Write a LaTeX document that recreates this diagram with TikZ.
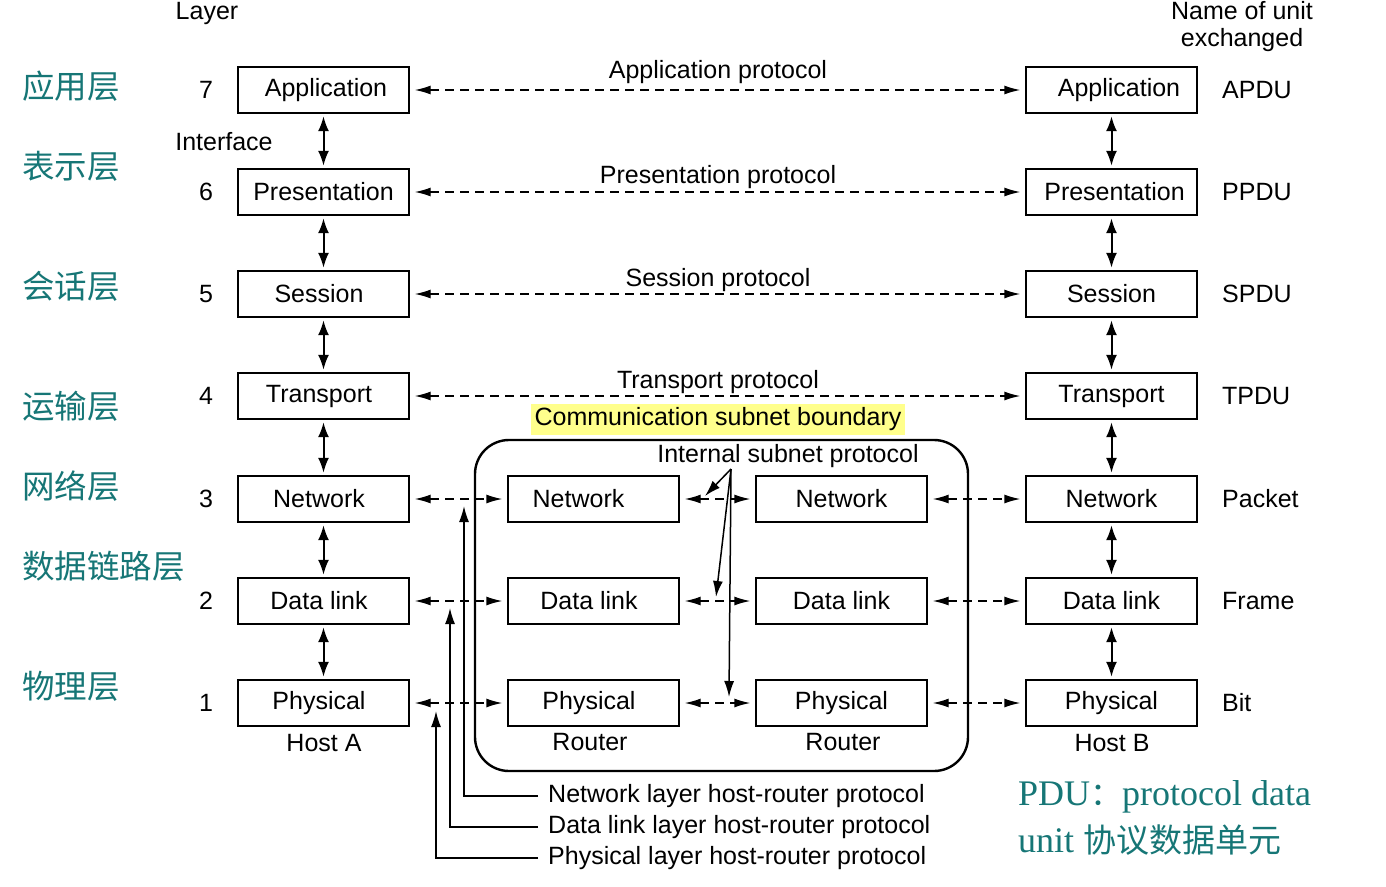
\documentclass[tikz,border=0pt]{standalone}
\usepackage{fontspec}
\setmainfont{Liberation Sans}
\newfontfamily\cjk{Noto Sans CJK SC}
\newfontfamily\pduserif{Liberation Serif}
\usetikzlibrary{arrows.meta}
\definecolor{tealcn}{RGB}{22,118,118}
\definecolor{hl}{RGB}{255,255,140}
\begin{document}
\begin{tikzpicture}[x=1pt,y=-1pt,
  txt/.style={font=\fontsize{25}{29}\selectfont, inner sep=0pt},
  layerbox/.style={draw, line width=1.4pt, minimum width=171pt, minimum height=46pt, inner sep=0pt, font=\fontsize{25}{29}\selectfont},
  cn/.style={font=\cjk\fontsize{32.5}{38}\selectfont, text=tealcn, anchor=west, inner sep=0pt},
  proto/.style={line width=1.4pt, dash pattern=on 9pt off 6pt, {Latex[length=16pt,width=9pt]}-{Latex[length=16pt,width=9pt]}, shorten >=5pt, shorten <=5pt},
  iface/.style={line width=2pt, {Latex[length=15pt,width=11pt]}-{Latex[length=15pt,width=11pt]}, shorten >=2.5pt, shorten <=2.5pt},
  solidarrow/.style={line width=1.5pt, -{Latex[length=16pt,width=10pt]}}
]
\useasboundingbox (0,0) rectangle (1386,886);

% headers
\node[txt] (hlayer) at (207,13) {Layer};
\node[txt, align=center] (hname) at (1242,27) {Name of unit\\[-2pt]exchanged};
\node[txt] (hiface) at (224,142) {Interface};

% Chinese layer names
\node[cn] (c7) at (22,86) {应用层};
\node[cn] (c6) at (22,166) {表示层};
\node[cn] (c5) at (22,286) {会话层};
\node[cn] (c4) at (22,406) {运输层};
\node[cn] (c3) at (22,486) {网络层};
\node[cn] (c2) at (22,566) {数据链路层};
\node[cn] (c1) at (22,686) {物理层};

% layer numbers
\foreach \n/\y in {7/90,6/192,5/294,4/396,3/499,2/601,1/703}
  \node[txt] (num\n) at (206,\y) {\n};

% left host
\node[layerbox] (la7) at (323.5,90) {\hspace*{5pt}Application};
\node[layerbox] (la6) at (323.5,192) {Presentation};
\node[layerbox] (la5) at (323.5,294) {\hspace*{-9pt}Session};
\node[layerbox] (la4) at (323.5,396) {\hspace*{-9pt}Transport};
\node[layerbox] (la3) at (323.5,499) {\hspace*{-9pt}Network};
\node[layerbox] (la2) at (323.5,601) {\hspace*{-9pt}Data link};
\node[layerbox] (la1) at (323.5,703) {\hspace*{-9pt}Physical};
\node[txt] (hosta) at (324,743) {Host A};

% right host
\node[layerbox] (rb7) at (1111.5,90) {\hspace*{15pt}Application};
\node[layerbox] (rb6) at (1111.5,192) {\hspace*{6pt}Presentation};
\node[layerbox] (rb5) at (1111.5,294) {Session};
\node[layerbox] (rb4) at (1111.5,396) {Transport};
\node[layerbox] (rb3) at (1111.5,499) {Network};
\node[layerbox] (rb2) at (1111.5,601) {Data link};
\node[layerbox] (rb1) at (1111.5,703) {Physical};
\node[txt] (hostb) at (1112,743) {Host B};

% units
\node[txt, anchor=west] (u7) at (1222,90) {APDU};
\node[txt, anchor=west] (u6) at (1222,192) {PPDU};
\node[txt, anchor=west] (u5) at (1222,294) {SPDU};
\node[txt, anchor=west] (u4) at (1222,396) {TPDU};
\node[txt, anchor=west] (u3) at (1222,499) {Packet};
\node[txt, anchor=west] (u2) at (1222,601) {Frame};
\node[txt, anchor=west] (u1) at (1222,703) {Bit};

% subnet
\node[draw, line width=2.4pt, rounded corners=34pt, minimum width=493pt, minimum height=331pt, inner sep=0pt] (subnet) at (721.5,605.5) {};
\node[layerbox] (r1n) at (593.5,499) {\hspace*{-30pt}Network};
\node[layerbox] (r1d) at (593.5,601) {\hspace*{-9pt}Data link};
\node[layerbox] (r1p) at (593.5,703) {\hspace*{-9pt}Physical};
\node[layerbox] (r2n) at (841.5,499) {Network};
\node[layerbox] (r2d) at (841.5,601) {Data link};
\node[layerbox] (r2p) at (841.5,703) {Physical};
\node[txt] (rt1) at (590,742) {Router};
\node[txt] (rt2) at (843,742) {Router};

\node[txt, fill=hl, inner xsep=4pt, minimum height=31pt] (csb) at (718,419) {Communication subnet boundary};
\node[txt] (isp) at (788,456) {Internal subnet protocol};

% protocol labels
\node[txt] (p7) at (718,72) {Application protocol};
\node[txt] (p6) at (718,177) {Presentation protocol};
\node[txt] (p5) at (718,280) {Session protocol};
\node[txt] (p4) at (718,382) {Transport protocol};

% peer protocols
\draw[proto] (la7.east) -- (rb7.west);
\draw[proto] (la6.east) -- (rb6.west);
\draw[proto] (la5.east) -- (rb5.west);
\draw[proto] (la4.east) -- (rb4.west);
\draw[proto] (la3.east) -- (r1n.west);
\draw[proto] (la2.east) -- (r1d.west);
\draw[proto] (la1.east) -- (r1p.west);
\draw[proto] (r1n.east) -- (r2n.west);
\draw[proto] (r1d.east) -- (r2d.west);
\draw[proto] (r1p.east) -- (r2p.west);
\draw[proto] (r2n.east) -- (rb3.west);
\draw[proto] (r2d.east) -- (rb2.west);
\draw[proto] (r2p.east) -- (rb1.west);

% interfaces
\draw[iface] (la7.south) -- (la6.north);
\draw[iface] (la6.south) -- (la5.north);
\draw[iface] (la5.south) -- (la4.north);
\draw[iface] (la4.south) -- (la3.north);
\draw[iface] (la3.south) -- (la2.north);
\draw[iface] (la2.south) -- (la1.north);
\draw[iface] (rb7.south) -- (rb6.north);
\draw[iface] (rb6.south) -- (rb5.north);
\draw[iface] (rb5.south) -- (rb4.north);
\draw[iface] (rb4.south) -- (rb3.north);
\draw[iface] (rb3.south) -- (rb2.north);
\draw[iface] (rb2.south) -- (rb1.north);

% internal subnet protocol pointers
\coordinate (ispsrc) at (731,469);
\coordinate (ispn) at (705,496);
\coordinate (ispd) at (716,597);
\coordinate (ispp) at (729,697);
\draw[solidarrow] (ispsrc) -- (ispn);
\draw[solidarrow] (ispsrc) -- (ispd);
\draw[solidarrow] (ispsrc) -- (ispp);

% host-router protocols
\node[txt, anchor=west] (nhr) at (548,796) {Network layer host-router protocol};
\node[txt, anchor=west] (dhr) at (548,827) {Data link layer host-router protocol};
\node[txt, anchor=west] (phr) at (548,858) {Physical layer host-router protocol};
\coordinate (nhrtip) at (464,506);
\coordinate (dhrtip) at (450,608);
\coordinate (phrtip) at (436,711);
\draw[solidarrow, shorten <=10pt] (nhr.west) -| (nhrtip);
\draw[solidarrow, shorten <=10pt] (dhr.west) -| (dhrtip);
\draw[solidarrow, shorten <=10pt] (phr.west) -| (phrtip);

% PDU note
\node[anchor=west, inner sep=0pt, text=tealcn, font=\pduserif\fontsize{36}{42}\selectfont] (pdu1) at (1018,797) {PDU{\cjk\fontsize{32}{38}\selectfont ：}protocol data};
\node[anchor=west, inner sep=0pt, text=tealcn, font=\pduserif\fontsize{36}{42}\selectfont] (pdu2) at (1018,840) {unit {\cjk\fontsize{33}{38}\selectfont 协议数据单元}};
\end{tikzpicture}
\end{document}
